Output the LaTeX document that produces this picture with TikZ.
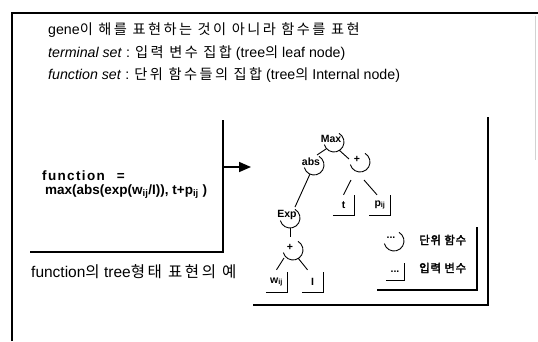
\documentclass[tikz,border=0pt]{standalone}
\usepackage{fontspec}
\setmainfont{Liberation Sans}
\newfontfamily\krfont[LetterSpace=17]{Noto Sans CJK KR}
\newfontfamily\krbold[FakeBold=2.5,LetterSpace=6]{Noto Sans CJK KR}
\newcommand{\kor}[1]{{\krfont #1}}
\usetikzlibrary{arrows.meta,calc}
\tikzset{
  hdr/.style={anchor=west, inner sep=0pt, font=\fontsize{14.2}{16}\selectfont},
  fn/.style={inner sep=0pt, font=\bfseries\fontsize{10.5}{11}\selectfont},
  leafbox/.style={inner sep=0pt, minimum width=21pt, minimum height=20pt, font=\bfseries\fontsize{10.5}{11}\selectfont},
  frameline/.style={line width=1.3pt},
  edge/.style={line width=0.9pt},
  lbl/.style={anchor=west, inner sep=0pt, font=\krbold\fontsize{11.5}{12}\selectfont},
  boxtxt/.style={anchor=west, inner sep=0pt, font=\bfseries\fontsize{13.5}{15}\selectfont},
}
\begin{document}
\begin{tikzpicture}[x=1pt,y=-1pt]
\useasboundingbox (0,0) rectangle (538,341);
% outer frame
\draw[frameline] (12,341) -- (12,13) -- (538,13);
\draw[gray!35, line width=0.8pt] (535.5,16) -- (535.5,160);
% header
\node[hdr] (h1) at (48,30) {gene\kor{이 해를 표현하는 것이 아니라 함수를 표현}};
\node[hdr] (h2) at (48,53) {\textit{terminal set} : \kor{입력 변수 집합} (tree\kor{의} leaf node)};
\node[hdr] (h3) at (48,75) {\textit{function set} : \kor{단위 함수들의 집합} (tree\kor{의} Internal node)};
% function box
\draw[frameline] (223,120) -- (223,252) -- (30,252);
\node[boxtxt] (f1) at (42,176) {{\addfontfeature{LetterSpace=10}function}\hspace{12pt}=};
\node[boxtxt] (f2) at (45,192) {max(abs(exp(w\textsubscript{ij}/I)), t+p\textsubscript{ij} )};
\coordinate (as) at (223,167);
\coordinate (ae) at (251,167);
\draw[line width=1.6pt, -{Triangle[length=12pt,width=10pt]}] (as) -- (ae);
% caption
\node[anchor=west, inner sep=0pt, font=\fontsize{15.5}{17}\selectfont] (cap) at (31,272) {function\kor{의} tree\kor{형태 표현의 예}};
% tree frame
\draw[frameline] (488,117) -- (488,305) -- (253,305);
\draw[frameline] (477,227) -- (477,290) -- (377,290);
% tree nodes
\node[fn] (max) at (331,139) {Max};
\node[fn] (abs) at (311,162) {abs};
\node[fn] (pa) at (357,159) {+};
\node[fn] (exp) at (287,215) {Exp};
\node[fn] (pb) at (290,247) {+};
\node[leafbox] (t) at (343.5,205) {t};
\node[leafbox] (p) at (380,205) {p\textsubscript{ij}};
\node[leafbox] (w) at (276.5,282) {w\textsubscript{ij}};
\node[leafbox] (i) at (312.5,282) {I};
% legend
\node[fn] (lf) at (391,238) {...};
\node[leafbox, minimum width=18pt, minimum height=17pt] (ll) at (395,271.5) {...};
\node[lbl] (l1) at (419,240) {단위 함수};
\node[lbl] (l2) at (419,268) {입력 변수};
% function arcs
\foreach \n in {max,abs,pa,exp,pb,lf}
  \draw[edge] ($(\n)+(3,3)+(-60:10)$) arc[start angle=-60, end angle=165, radius=10];
% leaf corners
\foreach \n in {t,p,w,i,ll}
  \draw[edge] (\n.south west) -- (\n.south east) -- (\n.north east);
% edges
\draw[edge] ($(max)+(-5,10)$) -- ($(abs)+(6,-7)$);
\draw[edge] ($(max)+(8,11)$) -- ($(pa)+(-8,0)$);
\draw[edge] ($(pa)+(-6,21)$) -- (t.north);
\draw[edge] ($(pa)+(7,21)$) -- ($(p.north)+(-3,0)$);
\draw[edge] ($(abs)+(-1,12)$) -- ($(exp)+(8,-8)$);
\draw[edge] ($(exp)+(3,13)$) -- ($(pb)+(0,-10)$);
\draw[edge] ($(pb)+(-6,11)$) -- ($(w.north)+(0,-2)$);
\draw[edge] ($(pb)+(8,11)$) -- ($(i.north)+(-5,-2)$);
\end{tikzpicture}
\end{document}
